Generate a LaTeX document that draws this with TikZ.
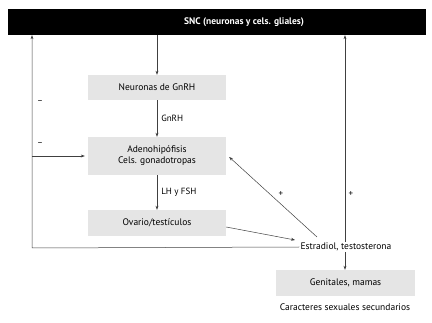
\documentclass[tikz,border=0pt]{standalone}
\usepackage{fontspec}
\setmainfont{PT Sans}
\usetikzlibrary{arrows.meta}
\begin{document}
\begin{tikzpicture}[x=1pt,y=1pt,
  every node/.style={font=\fontsize{9.5}{11}\selectfont, inner sep=0pt},
  box/.style={fill=black!10, minimum width=138pt, align=center},
  conn/.style={draw=black!75, line width=0.5pt, -{Stealth[length=4pt,width=3pt]}},
  lbl/.style={font=\fontsize{9}{10}\selectfont}]
\useasboundingbox (0,0) rectangle (432,-323);
\node[fill=black, minimum width=418pt, minimum height=26pt] (snc) at (217,-22) {};
\node[text=white, font=\bfseries\fontsize{9.5}{11}\selectfont] (snct) at (244,-22) {SNC (neuronas y cels. gliales)};
\node[box, minimum height=25pt] (neur) at (157,-87.5) {Neuronas de GnRH};
\node[box, minimum height=38pt] (adeno) at (157,-156) {Adenohipófisis\\Cels. gonadotropas};
\node[box, minimum height=26pt] (ov) at (157,-223) {Ovario/testículos};
\node (estr) at (346,-247) {Estradiol, testosterona};
\node[box, minimum width=139pt, minimum height=26pt] (gen) at (345.5,-283) {Genitales, mamas};
\node (car) at (345,-307) {Caracteres sexuales secundarios};
\coordinate (L) at (32,-248);
\coordinate (Lm) at (32,-156);
\draw[conn] (neur.north |- snc.south) -- (neur.north);
\draw[conn] (neur) -- node[right=4pt, lbl] {GnRH} (adeno);
\draw[conn] (adeno) -- node[right=4pt, lbl] {LH y FSH} (ov);
\draw[conn] ([xshift=-1pt]estr.west) -- (L) -- (L |- snc.south);
\draw[conn] (Lm) -- ([xshift=-3pt]adeno.west);
\node[lbl] (m1) at (40,-102) {–};
\node[lbl] (m2) at (40,-144) {–};
\draw[conn] ([yshift=-4pt]ov.east) -- ([shift={(-51pt,7pt)}]estr.center);
\draw[conn] ([shift={(-29pt,10pt)}]estr.center) -- ([xshift=3pt,yshift=-1pt]adeno.east);
\node[lbl] (p1) at (281,-194) {+};
\draw[conn] ([xshift=-1pt,yshift=1pt]estr.north) -- ([xshift=-1pt]estr.north |- snc.south);
\node[lbl] (p2) at (351,-194) {+};
\draw[conn] ([xshift=-1pt,yshift=-1pt]estr.south) -- ([xshift=-0.5pt]gen.north);
\end{tikzpicture}
\end{document}
